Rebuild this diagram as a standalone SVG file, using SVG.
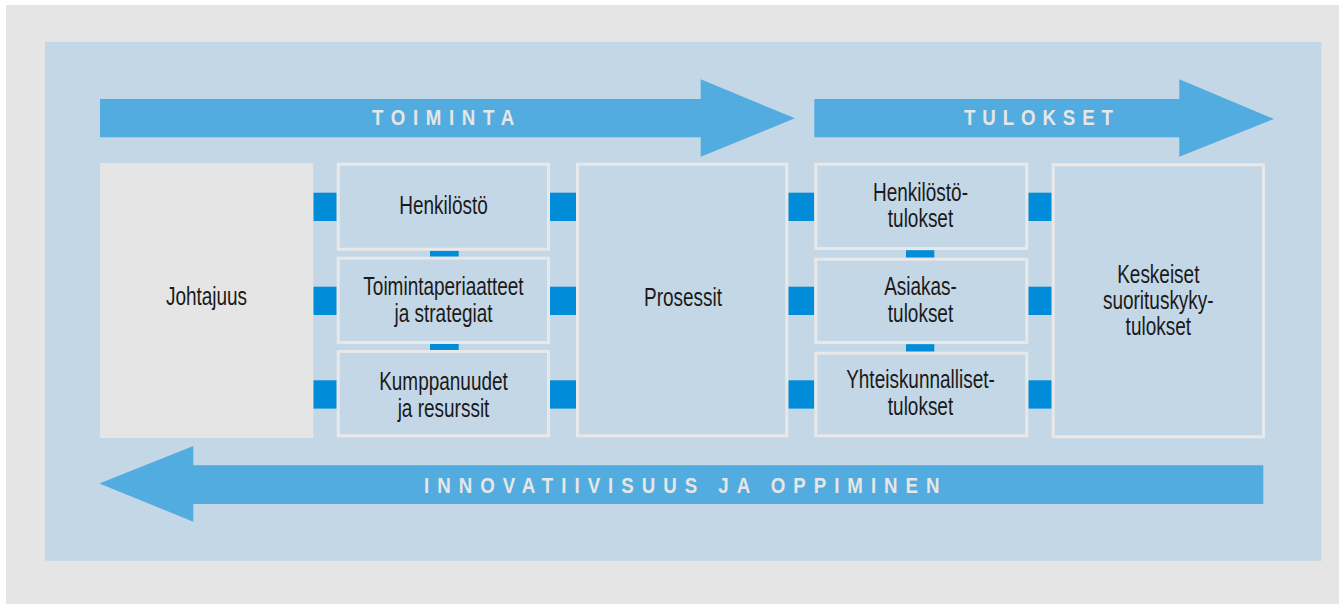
<svg xmlns="http://www.w3.org/2000/svg" width="1339" height="604" viewBox="0 0 1339 604">
  <style>
    .panel { fill: #c4d7e6; }
    .box { fill: #c4d7e6; stroke: #e8e8e8; stroke-width: 3; }
    .lead { fill: #e5e5e5; }
    .band { fill: #52acdf; }
    .link { fill: #008cd8; }
    .lbl { font-family: "Liberation Sans", Arial, sans-serif; font-size: 26px; fill: #1a1a1a; text-anchor: middle; }
    .band-lbl { font-family: "Liberation Sans", Arial, sans-serif; font-size: 22px; font-weight: bold; fill: #e6e6e6; }
  </style>

  <!-- page and panel -->
  <rect x="0" y="0" width="1339" height="604" fill="#ffffff"/>
  <rect x="6" y="5" width="1333" height="599" fill="#e5e5e5"/>
  <rect class="panel" x="45" y="42" width="1276.5" height="518.7"/>

  <!-- flow bands -->
  <g id="band-toiminta">
    <polygon class="band" points="100,99 700.7,99 700.7,79.3 795,118.3 700.7,156.7 700.7,137.3 100,137.3"/>
    <text class="band-lbl" transform="translate(372,124.5) scale(0.85,1)" letter-spacing="9">TOIMINTA</text>
  </g>
  <g id="band-tulokset">
    <polygon class="band" points="814.3,99 1179.3,99 1179.3,79.3 1274,119 1179.3,156.7 1179.3,137.3 814.3,137.3"/>
    <text class="band-lbl" transform="translate(964,124.5) scale(0.85,1)" letter-spacing="8.1">TULOKSET</text>
  </g>
  <g id="band-oppiminen">
    <polygon class="band" points="1263.3,465.3 193.3,465.3 193.3,446 99.3,483.5 193.3,521.7 193.3,504 1263.3,504"/>
    <text class="band-lbl" transform="translate(424,492.5) scale(0.85,1)" letter-spacing="9.4">INNOVATIIVISUUS JA OPPIMINEN</text>
  </g>

  <!-- connectors -->
  <g id="connectors">
    <rect class="link" x="313.3" y="192.7" width="23.4" height="28.3"/>
    <rect class="link" x="313.3" y="286.7" width="23.4" height="28.3"/>
    <rect class="link" x="313.3" y="380.3" width="23.4" height="28.3"/>
    <rect class="link" x="550" y="192.7" width="26" height="28.3"/>
    <rect class="link" x="550" y="286.7" width="26" height="28.3"/>
    <rect class="link" x="550" y="380.3" width="26" height="28.3"/>
    <rect class="link" x="788.3" y="192.7" width="26" height="28.3"/>
    <rect class="link" x="788.3" y="286.7" width="26" height="28.3"/>
    <rect class="link" x="788.3" y="380.3" width="26" height="28.3"/>
    <rect class="link" x="1028.3" y="192.7" width="23.4" height="28.3"/>
    <rect class="link" x="1028.3" y="286.7" width="23.4" height="28.3"/>
    <rect class="link" x="1028.3" y="380.3" width="23.4" height="28.3"/>
    <rect class="link" x="430" y="250.7" width="28.7" height="6"/>
    <rect class="link" x="430" y="344" width="28.7" height="6"/>
    <rect class="link" x="906" y="250.2" width="28.3" height="7.5"/>
    <rect class="link" x="906" y="344.2" width="28.3" height="7.5"/>
  </g>

  <!-- enablers -->
  <g id="johtajuus">
    <rect class="lead" x="100" y="163" width="213.3" height="275"/>
    <text class="lbl" transform="translate(206.5,305) scale(0.73,1)">Johtajuus</text>
  </g>
  <g id="henkilosto">
    <rect class="box" x="338.2" y="164.2" width="210.3" height="85"/>
    <text class="lbl" transform="translate(443.5,214) scale(0.73,1)">Henkilöstö</text>
  </g>
  <g id="toimintaperiaatteet">
    <rect class="box" x="338.2" y="258.2" width="210.3" height="84.3"/>
    <text class="lbl" transform="translate(443.5,295) scale(0.73,1)">Toimintaperiaatteet</text>
    <text class="lbl" transform="translate(443.5,321.5) scale(0.73,1)">ja strategiat</text>
  </g>
  <g id="kumppanuudet">
    <rect class="box" x="338.2" y="351.5" width="210.3" height="84.3"/>
    <text class="lbl" transform="translate(443.5,390) scale(0.73,1)">Kumppanuudet</text>
    <text class="lbl" transform="translate(443.5,416.5) scale(0.73,1)">ja resurssit</text>
  </g>
  <g id="prosessit">
    <rect class="box" x="577.5" y="164.2" width="209.3" height="271.6"/>
    <text class="lbl" transform="translate(683,305.5) scale(0.73,1)">Prosessit</text>
  </g>

  <!-- results -->
  <g id="henkilostotulokset">
    <rect class="box" x="815.8" y="164.2" width="211" height="84.3"/>
    <text class="lbl" transform="translate(920.5,200.7) scale(0.73,1)">Henkilöstö-</text>
    <text class="lbl" transform="translate(920.5,227.3) scale(0.73,1)">tulokset</text>
  </g>
  <g id="asiakastulokset">
    <rect class="box" x="815.8" y="259.2" width="211" height="83.3"/>
    <text class="lbl" transform="translate(920.5,295) scale(0.73,1)">Asiakas-</text>
    <text class="lbl" transform="translate(920.5,321.7) scale(0.73,1)">tulokset</text>
  </g>
  <g id="yhteiskunnalliset">
    <rect class="box" x="815.8" y="353.2" width="211" height="82.6"/>
    <text class="lbl" transform="translate(920.5,388.3) scale(0.73,1)">Yhteiskunnalliset-</text>
    <text class="lbl" transform="translate(920.5,415) scale(0.73,1)">tulokset</text>
  </g>
  <g id="keskeiset">
    <rect class="box" x="1053.2" y="164.8" width="210.3" height="272"/>
    <text class="lbl" transform="translate(1158.3,282.7) scale(0.73,1)">Keskeiset</text>
    <text class="lbl" transform="translate(1158.3,308.5) scale(0.73,1)">suorituskyky-</text>
    <text class="lbl" transform="translate(1158.3,335) scale(0.73,1)">tulokset</text>
  </g>
</svg>
